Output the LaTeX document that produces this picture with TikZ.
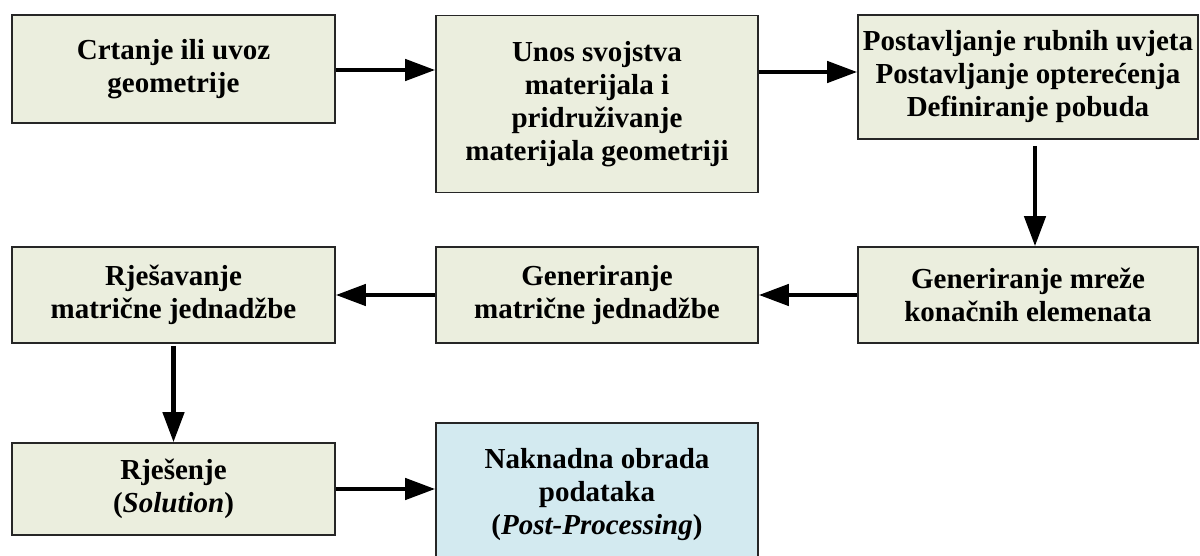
\documentclass[tikz,border=0pt]{standalone}
\usepackage{fontspec}
\setmainfont{Liberation Serif}
\usetikzlibrary{arrows.meta}
\definecolor{boxgreen}{HTML}{EBEEDE}
\definecolor{boxblue}{HTML}{D3EAF0}

\begin{document}
\begin{tikzpicture}[x=0.5pt,y=-0.5pt]
			\tikzstyle{block} = [rectangle, draw=black!85, line width=0.8pt, fill=boxgreen, inner sep=0pt, text centered, align=center, font=\fontsize{14.5}{16.5}\selectfont\bfseries]
			\tikzstyle{post} = [block, fill=boxblue]
			\tikzstyle{flow} = [line width=2.2pt, -{Triangle[length=15pt,width=10.5pt]}]
			
			\useasboundingbox (0,0) rectangle (1200,556);
			
			\node (geometrija) [block, minimum width=161.5pt, minimum height=54pt] at (173.5,69) {Crtanje ili uvoz\\geometrije};
			\node (materijal) [block, minimum width=161pt, minimum height=88.5pt] at (597,104) {Unos svojstva\\materijala i\\pridruživanje\\materijala geometriji};
			\node (uvjeti) [block, minimum width=170pt, minimum height=62pt] at (1028,77) {Postavljanje rubnih uvjeta\\Postavljanje opterećenja\\Definiranje pobuda};
			
			\node (mreza) [block, minimum width=170pt, minimum height=48pt] at (1028,295) {Generiranje mreže\\konačnih elemenata};
			\node (matrica) [block, minimum width=161pt, minimum height=48pt] at (597,295) {Generiranje\\matrične jednadžbe};
			\node (rjesavanje) [block, minimum width=161.5pt, minimum height=48pt] at (173.5,295) {Rješavanje\\matrične jednadžbe};
			
			\node (rjesenje) [block, minimum width=161.5pt, minimum height=46pt] at (173.5,489) {Rješenje\\(\textit{Solution})};
			% box runs past the lower edge of the page
			\node (obrada) [post, minimum width=161pt, minimum height=72pt] at (597,495) {Naknadna obrada\\podataka\\(\textit{Post-Processing})};
			
			\draw[flow] (geometrija.east |- 0,70) -- (materijal.west |- 0,70);
			\draw[flow] (materijal.east |- 0,72) -- (uvjeti.west |- 0,72);
			\draw[flow, shorten <=3pt] ([xshift=3.5pt]uvjeti.south) -- ([xshift=3.5pt]mreza.north);
			\draw[flow] (mreza.west) -- (matrica.east);
			\draw[flow] (matrica.west) -- (rjesavanje.east);
			\draw[flow, shorten <=1pt] (rjesavanje.south) -- (rjesenje.north);
			\draw[flow] (rjesenje.east) -- (rjesenje.east -| obrada.west);
			
\end{tikzpicture}
\end{document}
